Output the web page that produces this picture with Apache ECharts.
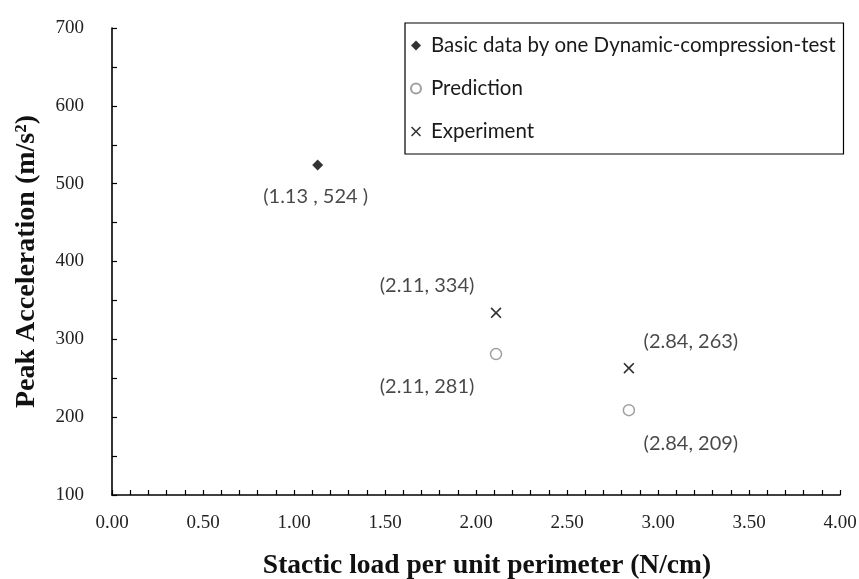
<!DOCTYPE html>
<html><head><meta charset="utf-8">
<script src="https://cdn.jsdelivr.net/npm/echarts@6/dist/echarts.min.js"></script>
<style>html,body{margin:0;padding:0;background:#fff}#c{width:859px;height:579px}</style>
</head><body><div id="c"></div>
<script>
// Data
const basicX = [1.13];
const basicY = [524];
const basicLabels = ['(1.13 , 524 )'];
const predX = [2.11, 2.84];
const predY = [281, 209];
const predLabels = ['(2.11, 281)', '(2.84, 209)'];
const expX = [2.11, 2.84];
const expY = [334, 263];
const expLabels = ['(2.11, 334)', '(2.84, 263)'];
const xTicks = ['0.00','0.50','1.00','1.50','2.00','2.50','3.00','3.50','4.00'];
const yTicks = [100,200,300,400,500,600,700];

const crossPath = 'path://M0,1.1L1.1,0L5,3.9L8.9,0L10,1.1L6.1,5L10,8.9L8.9,10L5,6.1L1.1,10L0,8.9L3.9,5Z';
const labelFont = {fontFamily:'Lato', fontSize:20, color:'#1a1a1a'};

function pts(xs, ys, labels, offsets){
  return xs.map((x,i)=>({value:[x, ys[i]], label:Object.assign({show:true, formatter:labels[i], position:'inside', offset:offsets[i]}, labelFont)}));
}

const chart = echarts.init(document.getElementById('c'), null, {renderer:'canvas'});
chart.setOption({
  backgroundColor:'#fff',
  animation:false,
  grid:{left:112, right:19, top:28, bottom:84, containLabel:false, outerBoundsMode:'none'},
  legend:{
    orient:'vertical', left:405, top:23,
    backgroundColor:'#fff', borderColor:'#000', borderWidth:1.2,
    padding:[12,8,12,5], itemGap:22, itemWidth:10, itemHeight:10,
    textStyle:{fontFamily:'Lato', fontSize:20.5, color:'#1a1a1a', padding:[0,0,0,5]},
    data:['Basic data by one Dynamic-compression-test','Prediction','Experiment']
  },
  xAxis:{
    type:'value', min:0, max:4, interval:0.5,
    name:'Stactic load per unit perimeter (N/cm)', nameLocation:'middle', nameGap:57,
    nameTextStyle:{fontFamily:'Liberation Serif', fontWeight:'bold', fontSize:27.5, color:'#111', padding:[0,0,0,22]},
    axisLine:{show:true, lineStyle:{color:'#000', width:1.6}},
    axisTick:{show:true, inside:true, length:5, lineStyle:{color:'#000', width:1.2}},
    minorTick:{show:true, splitNumber:5, length:5, lineStyle:{color:'#000', width:1.2}},
    axisLabel:{fontFamily:'Liberation Serif', fontSize:19, color:'#222', margin:19,
      formatter:(v)=>xTicks[Math.round(v/0.5)]},
    splitLine:{show:false}
  },
  yAxis:{
    type:'value', min:100, max:700, interval:100,
    name:'Peak Acceleration (m/s²)', nameLocation:'middle', nameGap:71, nameRotate:90,
    nameTextStyle:{fontFamily:'Liberation Serif', fontWeight:'bold', fontSize:28, color:'#111'},
    axisLine:{show:true, lineStyle:{color:'#000', width:1.6}},
    axisTick:{show:true, inside:true, length:5, lineStyle:{color:'#000', width:1.2}},
    minorTick:{show:true, splitNumber:2, length:5, lineStyle:{color:'#000', width:1.2}},
    axisLabel:{fontFamily:'Liberation Serif', fontSize:19, color:'#222', margin:28,
      formatter:(v)=>String(yTicks[Math.round((v-100)/100)])},
    splitLine:{show:false}
  },
  series:[
    {name:'Basic data by one Dynamic-compression-test', type:'scatter', symbol:'diamond', symbolSize:11,
     itemStyle:{color:'#000'},
     data:pts(basicX, basicY, basicLabels, [[-2,32]])},
    {name:'Prediction', type:'scatter', symbol:'circle', symbolSize:11,
     itemStyle:{color:'#fff', borderColor:'#888', borderWidth:1.5},
     data:pts(predX, predY, predLabels, [[-69,32],[62,33]])},
    {name:'Experiment', type:'scatter', symbol:crossPath, symbolSize:11,
     itemStyle:{color:'#000'},
     data:pts(expX, expY, expLabels, [[-69,-27],[62,-27]])}
  ]
});
</script></body></html>
